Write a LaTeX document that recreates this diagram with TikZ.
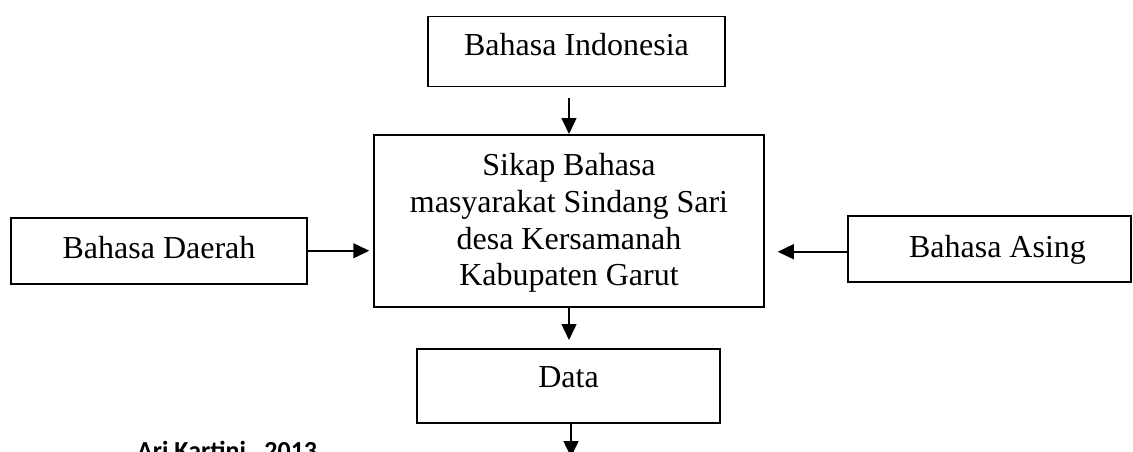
\documentclass[tikz,border=0pt]{standalone}
\usepackage{fontspec}
\setmainfont{Liberation Serif}
\newfontfamily\notefont{Carlito}
\usetikzlibrary{arrows.meta,positioning,calc}
\tikzset{
  box/.style={draw,line width=1.5pt,inner sep=0pt,align=flush center,
    font=\fontsize{32}{36.7}\selectfont},
  arrow/.style={line width=1.5pt,-{Triangle[length=16pt,width=15pt]}}
}

\begin{document}
\begin{tikzpicture}[x=1pt,y=-1pt]
  \useasboundingbox (0,0) rectangle (1133,452);
  % Boxes
  \node[box,minimum width=297pt,text height=39pt,text depth=31pt,anchor=north] (indo) at (576.5,16){Bahasa Indonesia};
  \node[box,text width=390pt,text height=41pt,text depth=131pt,anchor=north] (sikap) at (569,134)
    {Sikap Bahasa\\masyarakat Sindang Sari\\desa Kersamanah\\Kabupaten Garut};
  \node[box,minimum width=296pt,text height=41pt,text depth=25pt,anchor=north] (daerah) at (159,217){Bahasa Daerah};
  \node[box,text width=283pt,text height=42pt,text depth=24pt,anchor=north] (asing) at (989.5,215){\hspace*{16pt}Bahasa Asing};
  \node[box,minimum width=303pt,text height=39pt,text depth=35pt,anchor=north] (data) at (568.5,348){Data};
  \node[font=\notefont\bfseries\fontsize{26}{30}\selectfont,anchor=base west,inner sep=0pt] (penulis) at (137,459){Ari Kartini , 2013};
  \coordinate (keluar) at (571,457);

  % Arrows
  \draw[arrow] ($(indo.south -| sikap.north)+(0,-10pt)$) -- (sikap.north);
  \draw[arrow] (daerah.east) -- ($(sikap.west |- daerah.east)+(-4pt,0)$);
  \draw[arrow] ([yshift=-3pt]asing.west) -- ($(sikap.east |- asing.west)+(13pt,-3pt)$);
  \draw[arrow] (sikap.south) -- ($(data.north -| sikap.south)+(0,8pt)$);
  \draw[arrow] (data.south -| keluar) -- (keluar);
\end{tikzpicture}
\end{document}
